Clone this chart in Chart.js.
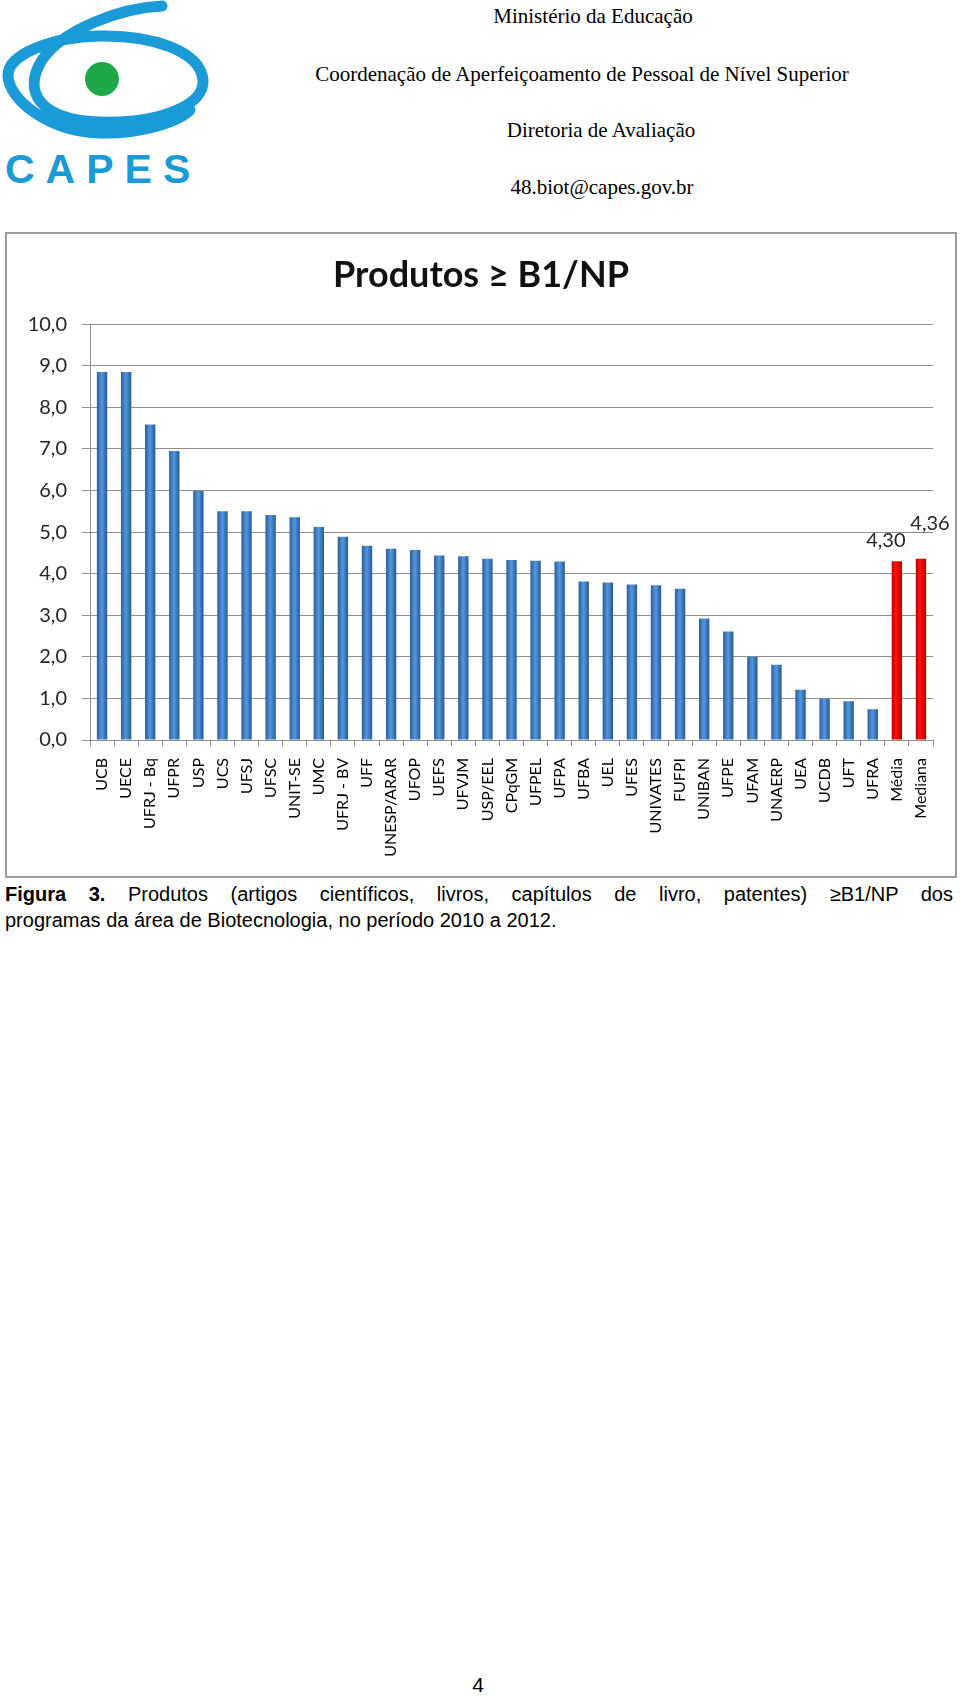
<!DOCTYPE html>
<html lang="pt-BR">
<head>
<meta charset="utf-8">
<title>Produtos ≥ B1/NP</title>
<script src="https://cdn.jsdelivr.net/npm/chart.js@4.4.1/dist/chart.umd.min.js"></script>
<style>
	html, body { margin: 0; padding: 0; background: #fff; }
	#page { position: relative; width: 960px; height: 1696px; overflow: hidden; }
	.head { position: absolute; font-family: "Liberation Serif", "DejaVu Serif", serif; font-size: 21px; color: #000; white-space: nowrap; transform: translate(-50%, -50%); }
	#logo { position: absolute; left: 0; top: 0; width: 210px; height: 200px; }
	#capes { position: absolute; left: 5px; top: 146px; font-family: "Liberation Sans", Arial, sans-serif; font-weight: bold; font-size: 41px; letter-spacing: 11px; color: #1b9ad8; }
	#frame { position: absolute; left: 5px; top: 232px; width: 952px; height: 646px; border: 2px solid #9a9a9a; box-sizing: border-box; }
	#chart-box { position: relative; width: 948px; height: 642px; }
	.caption { position: absolute; left: 5px; width: 948px; font-family: "Liberation Sans", Arial, sans-serif; font-size: 20px; color: #000; white-space: nowrap; }
	#cap1 { top: 883px; text-align: justify; text-align-last: justify; white-space: normal; }
	#cap2 { top: 909px; }
	#pagenum { position: absolute; left: 478px; top: 1685px; transform: translate(-50%, -50%); font-family: "Liberation Sans", Arial, sans-serif; font-size: 21px; }
</style>
</head>
<body>
<div id="page">
	<svg id="logo" viewBox="0 0 210 200">
		<path d="M162 6 C120 8, 62 30, 42 60 C22 92, 40 120, 100 122 C160 124, 205 105, 203 80 C200 50, 150 35, 100 36 C50 37, 8 55, 8 75 C8 100, 50 132, 100 133 C140 134, 178 122, 190 110"
			fill="none" stroke="#1b9ad8" stroke-width="11" stroke-linecap="round"/>
		<circle cx="102" cy="79" r="17" fill="#1ea84a"/>
	</svg>
	<div id="capes">CAPES</div>

	<div class="head" style="left:593px; top:16px">Ministério da Educação</div>
	<div class="head" style="left:582px; top:74px">Coordenação de Aperfeiçoamento de Pessoal de Nível Superior</div>
	<div class="head" style="left:601px; top:130px">Diretoria de Avaliação</div>
	<div class="head" style="left:602px; top:187px">48.biot@capes.gov.br</div>

	<div id="frame">
		<div id="chart-box"><canvas id="prod-chart"></canvas></div>
	</div>

	<div class="caption" id="cap1"><b>Figura 3.</b> Produtos (artigos científicos, livros, capítulos de livro, patentes) ≥B1/NP dos</div>
	<div class="caption" id="cap2">programas da área de Biotecnologia, no período 2010 a 2012.</div>

	<div id="pagenum">4</div>
</div>

<script>
const programas = ["UCB", "UECE", "UFRJ - Bq", "UFPR", "USP", "UCS", "UFSJ", "UFSC", "UNIT-SE", "UMC",
	"UFRJ - BV", "UFF", "UNESP/ARAR", "UFOP", "UEFS", "UFVJM", "USP/EEL", "CPqGM", "UFPEL", "UFPA",
	"UFBA", "UEL", "UFES", "UNIVATES", "FUFPI", "UNIBAN", "UFPE", "UFAM", "UNAERP", "UEA",
	"UCDB", "UFT", "UFRA", "Média", "Mediana"]
const produtos = [8.85, 8.85, 7.59, 6.95, 5.99, 5.50, 5.50, 5.41, 5.36, 5.12,
	4.89, 4.67, 4.60, 4.57, 4.44, 4.42, 4.36, 4.33, 4.31, 4.29,
	3.81, 3.79, 3.74, 3.72, 3.64, 2.92, 2.61, 2.00, 1.81, 1.21,
	0.99, 0.93, 0.74, 4.30, 4.36]
const yTickLabels = ["0,0", "1,0", "2,0", "3,0", "4,0", "5,0", "6,0", "7,0", "8,0", "9,0", "10,0"]
// rotulos so para media e mediana
const rotulos = ["Média", "Mediana"]
const rotuloOffsets = [[-11, -21], [9, -35]]

const barPct = 0.43

function barGradient(context){
	const chart = context.chart
	const red = rotulos.includes(programas[context.dataIndex])
	if(!chart.chartArea || !chart.scales.x){
		return red ? "#e60000" : "#3b7bc2"
	}
	const x = chart.scales.x.getPixelForValue(context.dataIndex)
	const half = chart.scales.x.width / programas.length * barPct / 2
	const g = chart.ctx.createLinearGradient(x - half, 0, x + half, 0)
	if(red){
		g.addColorStop(0, "#b80000")
		g.addColorStop(0.4, "#ff1414")
		g.addColorStop(0.6, "#f20000")
		g.addColorStop(1, "#b00000")
	} else {
		g.addColorStop(0, "#2a5c98")
		g.addColorStop(0.35, "#4a89cf")
		g.addColorStop(0.5, "#5596dc")
		g.addColorStop(0.7, "#3d7cc0")
		g.addColorStop(1, "#285892")
	}
	return g
}

const valueLabels = {
	id: "valueLabels",
	afterDatasetsDraw(chart){
		const ctx = chart.ctx
		const meta = chart.getDatasetMeta(0)
		ctx.save()
		ctx.font = "20px Lato"
		ctx.fillStyle = "#262626"
		ctx.textAlign = "center"
		ctx.textBaseline = "middle"
		rotulos.forEach((r, i) => {
			const idx = programas.indexOf(r)
			const bar = meta.data[idx]
			const txt = produtos[idx].toFixed(2).replace(".", ",")
			ctx.fillText(txt, bar.x + rotuloOffsets[i][0], bar.y + rotuloOffsets[i][1])
		})
		ctx.restore()
	}
}

const prodChart = new Chart("prod-chart", {
	type: "bar",
	data: {
		labels: programas,
		datasets: [{
			label: "Produtos ≥ B1/NP",
			data: produtos,
			backgroundColor: barGradient,
			borderWidth: 0,
			categoryPercentage: 1,
			barPercentage: barPct
		}]
	},
	options: {
		responsive: true,
		maintainAspectRatio: false,
		animation: false,
		layout: {
			padding: 0
		},
		plugins: {
			legend: {display: false},
			tooltip: {enabled: false},
			title: {
				display: true,
				text: "Produtos ≥ B1/NP",
				color: "#111",
				font: {family: "Lato", size: 36, weight: "bold"},
				padding: {top: 20, bottom: 27}
			}
		},
		scales: {
			x: {
				afterFit(scale){ scale.height = 136 },
				border: {color: "#8e8e8e", width: 1},
				grid: {drawOnChartArea: false, drawTicks: true, tickLength: 6, color: "#8e8e8e", offset: true},
				ticks: {
					autoSkip: false,
					minRotation: 90,
					maxRotation: 90,
					padding: 12,
					color: "#000",
					font: {family: "Lato", size: 16}
				}
			},
			y: {
				min: 0,
				max: 10,
				afterFit(scale){ scale.width = 83 },
				border: {color: "#8e8e8e", width: 1},
				grid: {color: "#8e8e8e", lineWidth: 1, tickLength: 8},
				ticks: {
					stepSize: 1,
					padding: 15,
					color: "#262626",
					font: {family: "Lato", size: 20},
					callback: (v, i) => yTickLabels[i]
				}
			},
			// espaço vazio a direita, so para o titulo ficar centrado
			yRight: {
				position: "right",
				afterFit(scale){ scale.width = 22 },
				border: {display: false},
				grid: {display: false},
				ticks: {display: false}
			}
		}
	},
	plugins: [valueLabels]
})
</script>
</body>
</html>
